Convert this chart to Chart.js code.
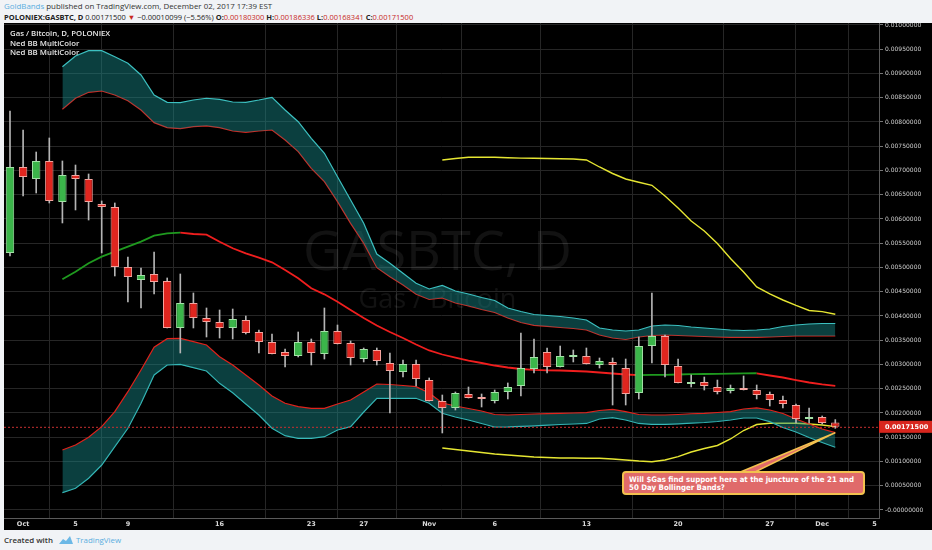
<!DOCTYPE html>
<html>
<head>
<meta charset="utf-8">
<script src="https://cdn.jsdelivr.net/npm/chart.js@4.4.1/dist/chart.umd.min.js"></script>
<style>
  html, body { margin:0; padding:0; }
  body { width:932px; height:550px; background:#f1f3f6; position:relative; overflow:hidden; font-family:"Open Sans", "Liberation Sans", sans-serif; }
  #hdr1 { position:absolute; left:4px; top:1px; font-size:7.9px; color:#333; white-space:nowrap; }
  #hdr2 { position:absolute; left:4px; top:11.5px; font-size:7.5px; color:#222; white-space:nowrap; }
  .gb { color:#5aaedf; }
  .dn { color:#c8281e; }
  #wrap { position:absolute; left:4px; top:23px; width:928px; height:507px; background:#000; }
  #chart { display:block; }
  #legend { position:absolute; left:10px; top:29px; font-size:7.8px; line-height:9.6px; color:#e6e6e6; font-weight:600; }
  #note { position:absolute; left:622px; top:471px; width:243px; height:24px; background:#e06a6a; border:2px solid #f2c14e; border-radius:4px;
          box-sizing:border-box; overflow:hidden; }
  #noteText { position:absolute; left:5px; top:2.5px; color:#fff; font-family:"DejaVu Sans", sans-serif; font-weight:bold;
          font-size:7.6px; line-height:8px; white-space:nowrap; transform-origin:0 0; }
  #foot { position:absolute; left:4px; top:535px; font-size:7.9px; color:#333; font-weight:600; white-space:nowrap; }
  #foot .tv { color:#5aaedf; font-weight:normal; }
  #foot svg { vertical-align:-2px; margin:0 2px 0 5px; }
</style>
</head>
<body>
<div id="hdr1"><span class="gb">GoldBands</span> published on TradingView.com, December 02, 2017 17:39 EST</div>
<div id="hdr2"><b>POLONIEX:GASBTC, D</b> 0.00171500 <span class="dn">&#9660;</span> &minus;0.00010099 (&minus;5.56%) <b>O:</b><span class="dn">0.00180300</span> <b>H:</b><span class="dn">0.00186336</span> <b>L:</b><span class="dn">0.00168341</span> <b>C:</b><span class="dn">0.00171500</span></div>
<div id="wrap"><canvas id="chart" width="928" height="507"></canvas></div>
<div id="legend">Gas / Bitcoin, D, POLONIEX<br>Ned BB MultiColor<br>Ned BB MultiColor</div>
<div id="note"><div id="noteText">Will $Gas find support here at the juncture of the 21 and<br>50 Day Bollinger Bands?</div></div>
<div id="foot">Created with<svg width="16" height="10" viewBox="0 0 16 10"><path d="M1 9 L5 4 L8 6 L12 1 L15 9 Z" fill="#6cb8e6"/></svg><span class="tv">TradingView</span></div>

<script>
// daily candles, index 0 = Sep 30 2017, last = Dec 2 2017
const open = [0.005299,0.007072,0.006825,0.007196,0.006351,0.006907,0.006825,0.006309,0.006247,0.005010,
  0.004742,0.004866,0.004722,0.003753,0.004268,0.003959,0.003876,0.003753,0.003918,0.003670,
  0.003464,0.003258,0.003175,0.003464,0.003216,0.003691,0.003443,0.003113,0.003299,0.003031,
  0.002845,0.003010,0.002680,0.002247,0.002103,0.002392,0.002330,0.002247,0.002433,0.002557,
  0.002907,0.003258,0.002948,0.003155,0.003175,0.002990,0.003052,0.002928,0.002412,0.003381,
  0.003588,0.002969,0.002598,0.002639,0.002536,0.002454,0.002515,0.002474,0.002392,0.002268,
  0.002165,0.001876,0.001918,0.001803];
const high = [0.008227,0.007835,0.007381,0.007670,0.007196,0.007113,0.006928,0.006371,0.006330,0.005216,
  0.004990,0.005320,0.004784,0.004866,0.004474,0.004165,0.004124,0.004144,0.004000,0.003711,
  0.003629,0.003320,0.003670,0.003526,0.004165,0.003814,0.003485,0.003340,0.003340,0.003237,
  0.003093,0.003093,0.002722,0.002371,0.002433,0.002536,0.002392,0.002474,0.002619,0.003649,
  0.003526,0.003340,0.003381,0.003299,0.003340,0.003134,0.003134,0.003113,0.003567,0.004474,
  0.003608,0.003113,0.002784,0.002742,0.002680,0.002577,0.002763,0.002577,0.002433,0.002351,
  0.002186,0.002103,0.001938,0.00186336];
const low = [0.005240,0.006474,0.006536,0.006330,0.005918,0.006186,0.005979,0.005299,0.004825,0.004289,
  0.004165,0.004454,0.003753,0.003237,0.003753,0.003567,0.003546,0.003526,0.003629,0.003237,
  0.003216,0.002948,0.003155,0.002990,0.003113,0.003423,0.002990,0.003052,0.002990,0.002000,
  0.002742,0.002557,0.002247,0.001588,0.002062,0.002309,0.002124,0.002206,0.002289,0.002351,
  0.002825,0.002825,0.002948,0.003052,0.003010,0.002928,0.002165,0.002165,0.002289,0.003031,
  0.002742,0.002619,0.002536,0.002474,0.002392,0.002412,0.002474,0.002289,0.002144,0.002103,
  0.001794,0.001794,0.001773,0.00168341];
const close = [0.007072,0.006866,0.007196,0.006371,0.006907,0.006825,0.006351,0.006247,0.005010,0.004804,
  0.004845,0.004701,0.003753,0.004268,0.003959,0.003876,0.003753,0.003938,0.003649,0.003464,
  0.003216,0.003175,0.003464,0.003237,0.003691,0.003423,0.003134,0.003320,0.003072,0.002866,
  0.003010,0.002701,0.002247,0.002103,0.002412,0.002309,0.002289,0.002433,0.002536,0.002928,
  0.003155,0.002948,0.003175,0.003196,0.003010,0.003072,0.002990,0.002392,0.003381,0.003588,
  0.002990,0.002619,0.002639,0.002557,0.002433,0.002515,0.002474,0.002371,0.002268,0.002186,
  0.001876,0.001897,0.001794,0.001715];

// 21 day bands, first value at candle index 4
const bbStart = 4;
const bbUpperOuter = [0.009140,0.009361,0.009470,0.009470,0.009346,0.009210,0.008969,0.008557,0.008406,0.008398,
  0.008454,0.008489,0.008468,0.008412,0.008406,0.008454,0.008509,0.008247,0.008006,0.007664,
  0.007355,0.006872,0.006392,0.005911,0.005278,0.005087,0.004880,0.004674,0.004557,0.004629,
  0.004515,0.004454,0.004381,0.004320,0.004165,0.004093,0.004031,0.004010,0.003990,0.003959,
  0.003918,0.003753,0.003711,0.003691,0.003711,0.003794,0.003814,0.003804,0.003773,0.003753,
  0.003732,0.003711,0.003701,0.003711,0.003732,0.003784,0.003814,0.003835,0.003845,0.003845];
const bbUpperInner = [0.008262,0.008489,0.008612,0.008639,0.008557,0.008439,0.008247,0.007986,0.007883,0.007862,
  0.007903,0.007918,0.007883,0.007814,0.007788,0.007814,0.007835,0.007629,0.007388,0.007045,
  0.006769,0.006357,0.005911,0.005499,0.004996,0.004810,0.004639,0.004447,0.004340,0.004371,
  0.004268,0.004206,0.004134,0.004072,0.003959,0.003866,0.003808,0.003784,0.003763,0.003742,
  0.003711,0.003608,0.003546,0.003515,0.003567,0.003598,0.003608,0.003598,0.003588,0.003577,
  0.003567,0.003561,0.003561,0.003561,0.003567,0.003577,0.003588,0.003588,0.003588,0.003588];
const bbBasis = [0.004757,0.004913,0.005087,0.005223,0.005326,0.005429,0.005532,0.005656,0.005705,0.005718,
  0.005691,0.005676,0.005532,0.005396,0.005293,0.005202,0.005107,0.004948,0.004777,0.004571,
  0.004447,0.004295,0.004124,0.003959,0.003804,0.003670,0.003546,0.003412,0.003289,0.003206,
  0.003144,0.003082,0.003031,0.002979,0.002938,0.002907,0.002887,0.002880,0.002876,0.002866,
  0.002856,0.002835,0.002814,0.002794,0.002779,0.002784,0.002788,0.002794,0.002800,0.002804,
  0.002808,0.002812,0.002817,0.002819,0.002773,0.002732,0.002680,0.002629,0.002588,0.002557];
const bbLowerInner = [0.001237,0.001340,0.001499,0.001718,0.002027,0.002439,0.002887,0.003355,0.003532,0.003540,
  0.003470,0.003402,0.003161,0.002990,0.002784,0.002577,0.002351,0.002200,0.002130,0.002097,
  0.002097,0.002186,0.002268,0.002433,0.002598,0.002588,0.002567,0.002542,0.002412,0.002206,
  0.002144,0.002093,0.002041,0.001969,0.001959,0.001969,0.001979,0.001986,0.001994,0.002000,
  0.002006,0.002052,0.002076,0.002027,0.001969,0.001959,0.001959,0.001969,0.001984,0.001994,
  0.002010,0.002027,0.002082,0.002107,0.002062,0.001990,0.001876,0.001773,0.001670,0.001594];
const bbLowerOuter = [0.000357,0.000447,0.000654,0.000928,0.001305,0.001685,0.002200,0.002784,0.002990,0.003004,
  0.002934,0.002866,0.002612,0.002419,0.002186,0.001959,0.001685,0.001532,0.001478,0.001478,
  0.001511,0.001649,0.001718,0.002021,0.002303,0.002303,0.002303,0.002303,0.002200,0.001994,
  0.001918,0.001856,0.001784,0.001711,0.001715,0.001726,0.001736,0.001748,0.001763,0.001773,
  0.001784,0.001876,0.001903,0.001856,0.001784,0.001767,0.001767,0.001777,0.001790,0.001804,
  0.001825,0.001856,0.001897,0.001897,0.001821,0.001701,0.001608,0.001495,0.001392,0.001293];

// 50 day bands, first value at candle index 33
const bb50Start = 33;
const bb50Upper = [0.007217,0.007247,0.007272,0.007272,0.007272,0.007262,0.007256,0.007252,0.007247,0.007243,
  0.007237,0.007217,0.007072,0.006938,0.006825,0.006757,0.006695,0.006474,0.006227,0.005959,
  0.005753,0.005495,0.005186,0.004907,0.004598,0.004454,0.004330,0.004217,0.004113,0.004089,0.004035];
const bb50Lower = [0.001278,0.001247,0.001217,0.001186,0.001155,0.001134,0.001113,0.001093,0.001082,0.001072,
  0.001072,0.001068,0.001066,0.001052,0.001031,0.001010,0.000996,0.001031,0.001099,0.001196,
  0.001268,0.001330,0.001464,0.001639,0.001763,0.001788,0.001788,0.001788,0.001773,0.001753,0.001718];

const xTickDays = [1, 5, 9, 16, 23, 27, 32, 37, 44, 51, 58, 62, 66];
const xTickLabels = ['Oct', '5', '9', '16', '23', '27', 'Nov', '6', '13', '20', '27', 'Dec', '5'];
const yTickValues = [0, 0.0005, 0.001, 0.0015, 0.002, 0.0025, 0.003, 0.0035, 0.004, 0.0045, 0.005,
  0.0055, 0.006, 0.0065, 0.007, 0.0075, 0.008, 0.0085, 0.009, 0.0095, 0.01];

const GREEN = '#3bb54a', RED = '#e0261f';

// squeeze the callout text to the width it has in the reference
const noteText = document.getElementById('noteText');
noteText.style.transform = 'scaleX(' + (225 / noteText.getBoundingClientRect().width) + ')';

function pts(arr, start) { return arr.map((v, k) => ({ x: start + k, y: v })); }

const wicks = high.map((h, i) => ({ x: i, y: [low[i], h] }));
const bodies = open.map((o, i) => ({ x: i, y: [o, close[i]] }));
const isUp = i => close[i] >= open[i];

const bandLine = (data, color, w, extra) => Object.assign({
  type: 'line', data: data, borderColor: color, borderWidth: w, pointRadius: 0, tension: 0, order: 5
}, extra || {});

const overlay = {
  id: 'overlay',
  beforeDatasetsDraw(chart) {
    const { ctx, chartArea: a } = chart;
    const cx = (a.left + a.right) / 2 - 4;
    ctx.save();
    ctx.fillStyle = 'rgba(255,255,255,0.07)';
    ctx.textAlign = 'center';
    ctx.textBaseline = 'middle';
    ctx.font = '54px "Open Sans", sans-serif';
    ctx.fillText('GASBTC, D', cx, 232);
    ctx.font = '27px "Open Sans", sans-serif';
    ctx.fillText('Gas / Bitcoin', cx, 277);
    ctx.restore();
  },
  afterDatasetsDraw(chart) {
    const { ctx, chartArea: a, scales } = chart;
    const last = close.length - 1;
    const py = scales.y.getPixelForValue(close[last]);
    ctx.save();
    ctx.strokeStyle = '#c83030';
    ctx.lineWidth = 1;
    ctx.setLineDash([2, 2]);
    ctx.beginPath();
    ctx.moveTo(a.left, py + 0.5);
    ctx.lineTo(a.right, py + 0.5);
    ctx.stroke();
    ctx.setLineDash([]);
    // callout pointer to the band juncture
    const tx = scales.x.getPixelForValue(last);
    const ty = scales.y.getPixelForValue(bbLowerInner[bbLowerInner.length - 1]);
    ctx.beginPath();
    ctx.moveTo(734, 450);
    ctx.lineTo(tx, ty);
    ctx.lineTo(749, 450);
    ctx.closePath();
    ctx.fillStyle = '#e06a6a';
    ctx.fill();
    ctx.strokeStyle = '#f2c14e';
    ctx.lineWidth = 1.5;
    ctx.stroke();
    ctx.restore();
  },
  afterDraw(chart) {
    const { ctx, chartArea: a, scales } = chart;
    const last = close.length - 1;
    const py = scales.y.getPixelForValue(close[last]);
    ctx.save();
    ctx.fillStyle = '#d8261e';
    ctx.fillRect(a.right, py - 6, chart.width - a.right, 12);
    ctx.fillStyle = '#fff';
    ctx.font = 'bold 6.5px "DejaVu Sans", sans-serif';
    ctx.textBaseline = 'middle';
    ctx.fillText(close[last].toFixed(8), a.right + 6, py + 0.5);
    ctx.restore();
  }
};

new Chart(document.getElementById('chart'), {
  type: 'line',
  data: {
    datasets: [
      bandLine(pts(bbUpperOuter, bbStart), '#3cc0c0', 1.2, { fill: '+1', backgroundColor: 'rgba(24,140,140,0.45)' }),
      bandLine(pts(bbUpperInner, bbStart), '#e0221b', 1.2),
      bandLine(pts(bbLowerInner, bbStart), '#e0221b', 1.2, { fill: '+1', backgroundColor: 'rgba(24,140,140,0.45)' }),
      bandLine(pts(bbLowerOuter, bbStart), '#3cc0c0', 1.2),
      bandLine(pts(bbBasis, bbStart), '#f01e1e', 1.8, {
        segment: { borderColor: c => c.p1.parsed.y >= c.p0.parsed.y ? '#1f9a1f' : '#f01e1e' }
      }),
      bandLine(pts(bb50Upper, bb50Start), '#e6e632', 1.4),
      bandLine(pts(bb50Lower, bb50Start), '#e6e632', 1.4),
      {
        type: 'bar', data: wicks, grouped: false, order: 1,
        backgroundColor: '#b4b4b4', maxBarThickness: 1, barPercentage: 1, categoryPercentage: 1
      },
      {
        type: 'bar', data: bodies, grouped: false, order: 0,
        backgroundColor: c => isUp(c.dataIndex) ? GREEN : RED,
        borderColor: c => isUp(c.dataIndex) ? '#a2e2a6' : '#f5a49e',
        borderWidth: 1, borderSkipped: false, minBarLength: 2,
        barPercentage: 0.64, categoryPercentage: 1
      }
    ]
  },
  options: {
    responsive: false,
    animation: false,
    events: [],
    layout: { padding: 0 },
    plugins: { legend: { display: false }, tooltip: { enabled: false } },
    scales: {
      x: {
        type: 'linear', min: -0.458, max: 66.336, offset: false,
        afterFit: s => { s.height = 12; s.paddingLeft = 0; s.paddingRight = 0; },
        afterBuildTicks: s => { s.ticks = xTickDays.map(v => ({ value: v })); },
        grid: { color: '#262626', drawTicks: false },
        border: { color: '#5a5a5a' },
        ticks: {
          autoSkip: false, maxRotation: 0, padding: 2, color: '#d8d8d8',
          font: { family: 'DejaVu Sans', size: 6.5, weight: 'bold' },
          callback: (v, i) => xTickLabels[i]
        }
      },
      y: {
        type: 'linear', position: 'right', min: -0.000165, max: 0.010041,
        afterFit: s => { s.width = 53; s.paddingTop = 0; s.paddingBottom = 0; },
        afterBuildTicks: s => { s.ticks = yTickValues.map(v => ({ value: v })); },
        grid: { color: '#262626', tickLength: 4, tickColor: '#777' },
        border: { color: '#5a5a5a' },
        ticks: {
          autoSkip: false, padding: 2, color: '#d0d0d0',
          font: { family: 'DejaVu Sans', size: 6 },
          callback: v => v === 0 ? '-0.00000000' : v.toFixed(8)
        }
      }
    }
  },
  plugins: [overlay]
});
</script>
</body>
</html>
